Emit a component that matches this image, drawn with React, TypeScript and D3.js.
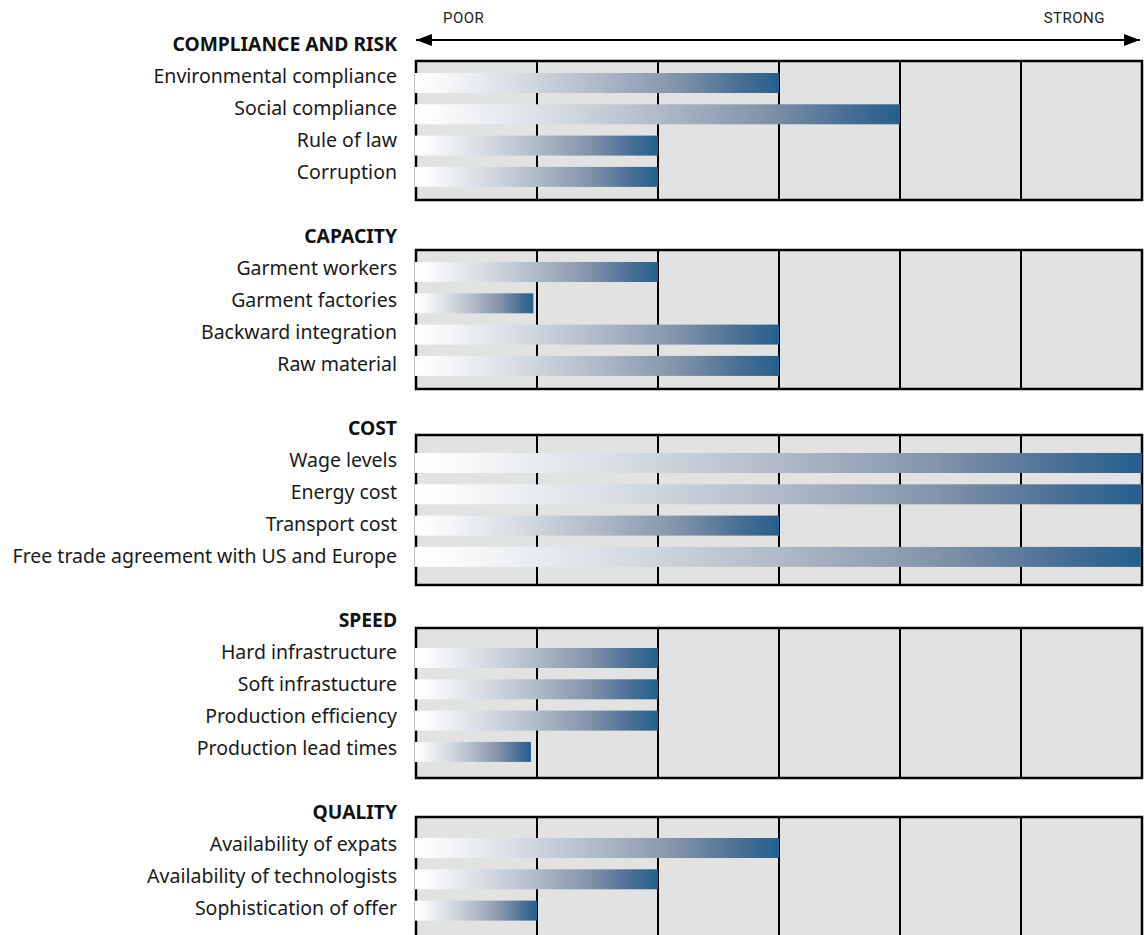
import React from "react";
import * as d3 from "d3";

// Scores on a 0 (poor) to 6 (strong) scale
const groups = ["COMPLIANCE AND RISK", "CAPACITY", "COST", "SPEED", "QUALITY"];

const complianceLabels = ["Environmental compliance", "Social compliance", "Rule of law", "Corruption"];
const complianceScores = [3, 4, 2, 2];

const capacityLabels = ["Garment workers", "Garment factories", "Backward integration", "Raw material"];
const capacityScores = [2, 0.97, 3, 3];

const costLabels = ["Wage levels", "Energy cost", "Transport cost", "Free trade agreement with US and Europe"];
const costScores = [6, 6, 3, 5.99];

const speedLabels = ["Hard infrastructure", "Soft infrastucture", "Production efficiency", "Production lead times"];
const speedScores = [2, 2, 2, 0.95];

const qualityLabels = ["Availability of expats", "Availability of technologists", "Sophistication of offer"];
const qualityScores = [3, 2, 1];

const scaleTicks = [0, 1, 2, 3, 4, 5, 6];
const axisEnds = ["POOR", "STRONG"];

const groupLabels = [complianceLabels, capacityLabels, costLabels, speedLabels, qualityLabels];
const groupScores = [complianceScores, capacityScores, costScores, speedScores, qualityScores];

// Panel frames: [top, bottom, first bar top]
const panelFrames: [number, number, number][] = [
  [61, 200, 73],
  [250, 389, 262],
  [435, 585, 453],
  [628, 778, 648],
  [817, 960, 838],
];

const W = 1144;
const H = 935;
const LABEL_X = 397;
const ROW = 32;
const BAR_H = 20;
const BAR_STEP = 31.3;

const x = d3.scaleLinear().domain([0, 6]).range([416, 1142]);

export default function App() {
  const font = "'Noto Sans', 'Open Sans', sans-serif";
  return (
    <svg
      width={W}
      height={H}
      viewBox={`0 0 ${W} ${H}`}
      style={{ position: "absolute", left: 0, top: 0, background: "#fff" }}
    >
      <defs>
        <linearGradient id="barFade" x1="0" y1="0" x2="1" y2="0">
          <stop offset="0" stopColor="#ffffff" />
          <stop offset="0.05" stopColor="#fafbfb" />
          <stop offset="0.27" stopColor="#d9dee5" />
          <stop offset="0.5" stopColor="#b0bac8" />
          <stop offset="0.72" stopColor="#8293aa" />
          <stop offset="0.9" stopColor="#466d94" />
          <stop offset="1" stopColor="#24608d" />
        </linearGradient>
        <marker id="arrowEnd" viewBox="0 0 16 12" refX="16" refY="6" markerWidth="16" markerHeight="12" markerUnits="userSpaceOnUse" orient="auto-start-reverse">
          <path d="M0,0 L16,6 L0,12 Z" fill="#000" />
        </marker>
      </defs>

      {/* direction arrow */}
      <line
        x1={x(0)}
        x2={x(6) - 2}
        y1={40}
        y2={40}
        stroke="#000"
        strokeWidth={2}
        markerStart="url(#arrowEnd)"
        markerEnd="url(#arrowEnd)"
      />
      <text x={443} y={23} fontFamily="Roboto, sans-serif" fontSize={15} letterSpacing={0.5} fill="#222">
        {axisEnds[0]}
      </text>
      <text x={1105} y={23} textAnchor="end" fontFamily="Roboto, sans-serif" fontSize={15} letterSpacing={0.5} fill="#222">
        {axisEnds[1]}
      </text>

      {groups.map((g, gi) => {
        const labels = groupLabels[gi];
        const scores = groupScores[gi];
        const [top, bottom, barTop] = panelFrames[gi];
        const n = labels.length;
        const pad = (BAR_STEP - BAR_H) / BAR_STEP;
        const y = d3
          .scaleBand<string>()
          .domain(labels)
          .range([barTop, barTop + BAR_STEP * (n - pad)])
          .paddingInner(pad)
          .paddingOuter(0);
        const titleY = 44 + gi * 6 * ROW;
        return (
          <g key={g}>
            <text
              x={LABEL_X}
              y={titleY + 6.5}
              textAnchor="end"
              fontFamily={font}
              fontWeight={700}
              fontSize={19.3}
              fill="#111"
            >
              {g}
            </text>
            {labels.map((l, i) => (
              <text
                key={l}
                x={LABEL_X}
                y={titleY + (i + 1) * ROW + 7}
                textAnchor="end"
                fontFamily={font}
                fontSize={19.5}
                fill="#1a1a1a"
              >
                {l}
              </text>
            ))}
            <rect
              x={x(0)}
              y={top}
              width={x(6) - x(0)}
              height={bottom - top}
              fill="#e2e2e2"
              stroke="#000"
              strokeWidth={2.5}
            />
            {scaleTicks.slice(1, -1).map((t) => (
              <line
                key={t}
                x1={x(t)}
                x2={x(t)}
                y1={top}
                y2={bottom}
                stroke="#000"
                strokeWidth={2}
              />
            ))}
            {labels.map((l, i) => (
              <rect
                key={l}
                x={x(0) - 1}
                y={y(l)}
                width={x(scores[i]) - x(0) + 1}
                height={y.bandwidth()}
                fill="url(#barFade)"
              />
            ))}
          </g>
        );
      })}
    </svg>
  );
}
